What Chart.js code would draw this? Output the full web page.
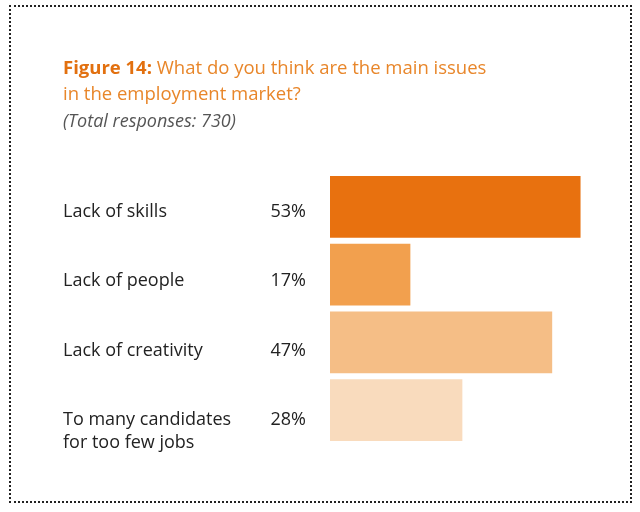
<!DOCTYPE html>
<html>
<head>
<meta charset="utf-8">
<script src="https://cdn.jsdelivr.net/npm/chart.js@4"></script>
<style>
  html, body { margin: 0; padding: 0; background: #fff; }
  #wrap { position: relative; width: 640px; height: 512px; }
  #frame { position: absolute; left: 9px; top: 5px; width: 619px; height: 494px; border: 2px dotted #222; }
  canvas { position: absolute; left: 0; top: 0; }
</style>
</head>
<body>
<div id="wrap">
  <div id="frame"></div>
  <canvas id="issuesChart" width="640" height="512"></canvas>
</div>
<script>
// データ
const categories = [
  ['Lack of skills'],
  ['Lack of people'],
  ['Lack of creativity'],
  ['To many candidates', 'for too few jobs']
];
const values = [53, 17, 47, 28];
const barColors = ['#E8710F', '#F2A04E', '#F5BE86', '#F9DBBD'];

// タイトル、カテゴリ名、パーセントを描くプラグイン
const textPlugin = {
  id: 'textPlugin',
  afterDraw(chart) {
    const c = chart.ctx;
    const y = chart.scales.y;
    c.save();
    c.textBaseline = 'alphabetic';
    c.textAlign = 'left';

    // タイトル
    c.font = 'bold 18.5px "Open Sans"';
    c.fillStyle = '#E2700F';
    const bold = 'Figure 14: ';
    c.fillText(bold, 63, 74);
    const w = c.measureText(bold).width;
    c.font = '18.5px "Open Sans"';
    c.fillStyle = '#E8862A';
    c.fillText('What do you think are the main issues', 63 + w, 74);
    c.fillText('in the employment market?', 63, 100);
    c.font = 'italic 18px "Open Sans"';
    c.fillStyle = '#555';
    c.fillText('(Total responses: 730)', 63, 127);

    // カテゴリ名とパーセント
    c.font = '18px "Open Sans"';
    c.fillStyle = '#222';
    categories.forEach((lines, i) => {
      const by = y.getPixelForValue(i) + 10 + i * 1.7;
      c.textAlign = 'left';
      lines.forEach((t, j) => c.fillText(t, 63, by + j * 23));
      c.textAlign = 'right';
      c.fillText(values[i] + '%', 306, by);
    });
    c.restore();
  }
};

const ctx = document.getElementById('issuesChart').getContext('2d');
new Chart(ctx, {
  type: 'bar',
  data: {
    labels: categories,
    datasets: [{
      data: values,
      backgroundColor: barColors,
      barPercentage: 0.91,
      categoryPercentage: 1
    }]
  },
  options: {
    indexAxis: 'y',
    responsive: false,
    animation: false,
    layout: { padding: { left: 330, right: 50, top: 173, bottom: 68 } },
    plugins: { legend: { display: false }, tooltip: { enabled: false } },
    scales: {
      x: { display: false, min: 0, max: 55 },
      y: { display: false }
    }
  },
  plugins: [textPlugin]
});
</script>
</body>
</html>
